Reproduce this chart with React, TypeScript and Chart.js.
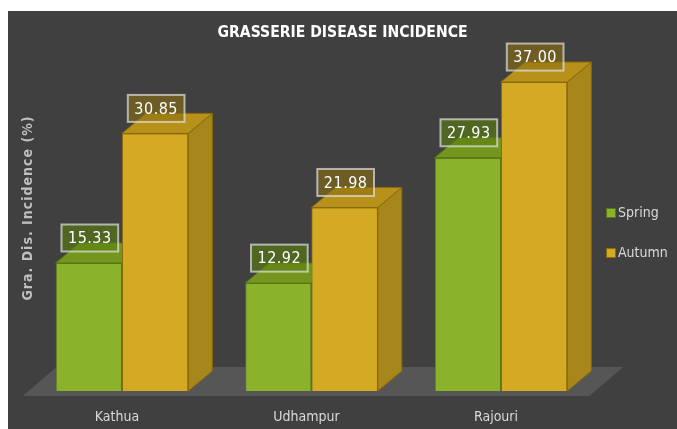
import React, { useEffect, useRef } from "react";
import { Chart, registerables } from "chart.js";

Chart.register(...registerables);

const CATEGORIES = ["Kathua", "Udhampur", "Rajouri"];
const SERIES_NAMES = ["Spring", "Autumn"];
const SPRING = [15.33, 12.92, 27.93];
const AUTUMN = [30.85, 21.98, 37.0];
const TITLE = "GRASSERIE DISEASE INCIDENCE";
const Y_TITLE = "Gra. Dis. Incidence (%)";
const Y_MIN = 0;
const Y_MAX = 40;

const FONT = '"DejaVu Sans Condensed", "DejaVu Sans", sans-serif';
const BG = "#404040";
const FLOOR = "#565656";

const STYLES = [
  {
    front: "#8ab22a",
    top: "#74961f",
    side: "#6a8a1a",
    edge: "#5a7812",
    box: "rgba(88,128,18,0.62)",
  },
  {
    front: "#d4a923",
    top: "#b8911b",
    side: "#a7861b",
    edge: "#8a6a0a",
    box: "rgba(140,112,18,0.6)",
  },
];

const DX = 24;
const DY = 20;

function poly(ctx: CanvasRenderingContext2D, pts: number[][], fill: string, stroke: string) {
  ctx.beginPath();
  ctx.moveTo(pts[0][0], pts[0][1]);
  for (let i = 1; i < pts.length; i++) ctx.lineTo(pts[i][0], pts[i][1]);
  ctx.closePath();
  ctx.fillStyle = fill;
  ctx.fill();
  ctx.strokeStyle = stroke;
  ctx.lineWidth = 1;
  ctx.stroke();
}

function faces(ctx: CanvasRenderingContext2D, bar: any, st: any) {
  const l = bar.x - bar.width / 2;
  const r = bar.x + bar.width / 2;
  const t = bar.y;
  const b = bar.base;
  poly(ctx, [[r, t], [r + DX, t - DY], [r + DX, b - DY], [r, b]], st.side, st.edge);
  poly(ctx, [[l, t], [r, t], [r + DX, t - DY], [l + DX, t - DY]], st.top, st.edge);
}

const bgPlugin = {
  id: "bg3d",
  beforeDraw(chart: any) {
    const ctx = chart.ctx;
    ctx.save();
    ctx.fillStyle = BG;
    ctx.fillRect(0, 0, chart.width, chart.height);
    ctx.restore();
  },
  beforeDatasetsDraw(chart: any) {
    const ctx = chart.ctx;
    const m0 = chart.getDatasetMeta(0).data;
    const m1 = chart.getDatasetMeta(1).data;
    const first = m0[0] as any;
    const last = m1[m1.length - 1] as any;
    const L = first.x - first.width / 2 - 33;
    const R = last.x + last.width / 2 + 22;
    const y0 = chart.scales.y.getPixelForValue(0);
    const fy = y0 + 5;
    ctx.save();
    ctx.beginPath();
    ctx.moveTo(L, fy);
    ctx.lineTo(R, fy);
    ctx.lineTo(R + 34, fy - 29);
    ctx.lineTo(L + 34, fy - 29);
    ctx.closePath();
    ctx.fillStyle = FLOOR;
    ctx.fill();
    ctx.restore();
  },
  afterDatasetsDraw(chart: any) {
    const ctx = chart.ctx;
    const g = chart.getDatasetMeta(0).data;
    const a = chart.getDatasetMeta(1).data;
    ctx.save();
    for (let i = 0; i < g.length; i++) {
      faces(ctx, g[i], STYLES[0]);
      (a[i] as any).draw(ctx);
      faces(ctx, a[i], STYLES[1]);
    }
    ctx.restore();

    ctx.save();
    [0, 1].forEach((di) => {
      const st = STYLES[di];
      const values = chart.data.datasets[di].data as number[];
      chart.getDatasetMeta(di).data.forEach((bar: any, i: number) => {
        const text = values[i].toFixed(2);
        ctx.font = `16px ${FONT}`;
        (ctx as any).letterSpacing = "0.5px";
        const tw = ctx.measureText(text).width;
        const w = tw + 13;
        const h = 27;
        const cx = bar.x + 1;
        const cy = bar.y - 25;
        ctx.fillStyle = st.box;
        ctx.fillRect(cx - w / 2, cy - h / 2, w, h);
        ctx.strokeStyle = "rgba(225,225,225,0.7)";
        ctx.lineWidth = 2;
        ctx.strokeRect(cx - w / 2, cy - h / 2, w, h);
        ctx.fillStyle = "#ffffff";
        ctx.textAlign = "center";
        ctx.textBaseline = "middle";
        ctx.fillText(text, cx, cy + 1);
      });
    });
    ctx.restore();
  },
  afterDraw(chart: any) {
    const ctx = chart.ctx;
    // title
    ctx.save();
    ctx.font = `bold 15.6px ${FONT}`;
    ctx.fillStyle = "#ffffff";
    ctx.textAlign = "center";
    ctx.textBaseline = "middle";
    ctx.fillText(TITLE, chart.width / 2, 21.5);
    ctx.restore();
    // y axis title
    ctx.save();
    ctx.translate(20, 197);
    ctx.rotate(-Math.PI / 2);
    ctx.font = `bold 14px ${FONT}`;
    (ctx as any).letterSpacing = "1px";
    ctx.fillStyle = "#bfbfbf";
    ctx.textAlign = "center";
    ctx.textBaseline = "middle";
    ctx.fillText(Y_TITLE, 0, 0);
    ctx.restore();
    // legend
    ctx.save();
    ctx.font = `14px ${FONT}`;
    ctx.textBaseline = "middle";
    ctx.textAlign = "left";
    chart.data.datasets.forEach((ds: any, i: number) => {
      const st = STYLES[i];
      const y = 202 + i * 40;
      ctx.fillStyle = st.front;
      ctx.fillRect(598, y - 5, 10, 10);
      ctx.strokeStyle = st.edge;
      ctx.lineWidth = 1;
      ctx.strokeRect(598.5, y - 4.5, 9, 9);
      ctx.fillStyle = "#d9d9d9";
      ctx.fillText(ds.label, 610, y);
    });
    ctx.restore();
  },
};

export default function App() {
  const ref = useRef<HTMLCanvasElement>(null);
  useEffect(() => {
    if (!ref.current) return;
    const chart = new Chart(ref.current, {
      type: "bar",
      data: {
        labels: CATEGORIES,
        datasets: [
          {
            label: SERIES_NAMES[0],
            data: SPRING,
            backgroundColor: STYLES[0].front,
            borderColor: STYLES[0].edge,
            borderWidth: 1,
            categoryPercentage: 0.7,
            barPercentage: 1,
          },
          {
            label: SERIES_NAMES[1],
            data: AUTUMN,
            backgroundColor: STYLES[1].front,
            borderColor: STYLES[1].edge,
            borderWidth: 1,
            categoryPercentage: 0.7,
            barPercentage: 1,
          },
        ],
      },
      options: {
        animation: false,
        responsive: false,
        layout: { padding: { left: 19.25, right: 81.25, top: 46, bottom: 0 } },
        scales: {
          x: {
            grid: { display: false, drawTicks: false },
            border: { display: false },
            ticks: { color: "#d9d9d9", font: { family: FONT, size: 14 }, padding: 18, labelOffset: -5 },
            afterFit: (scale: any) => {
              scale.height = 38;
            },
          },
          y: { display: false, min: Y_MIN, max: Y_MAX },
        },
        plugins: {
          legend: { display: false },
          tooltip: { enabled: false },
          title: { display: false },
        },
      },
      plugins: [bgPlugin],
    });
    return () => chart.destroy();
  }, []);
  return (
    <div style={{ position: "absolute", left: 8, top: 11, width: 669, height: 418 }}>
      <canvas ref={ref} width={669} height={418} style={{ width: 669, height: 418, display: "block" }} />
    </div>
  );
}
